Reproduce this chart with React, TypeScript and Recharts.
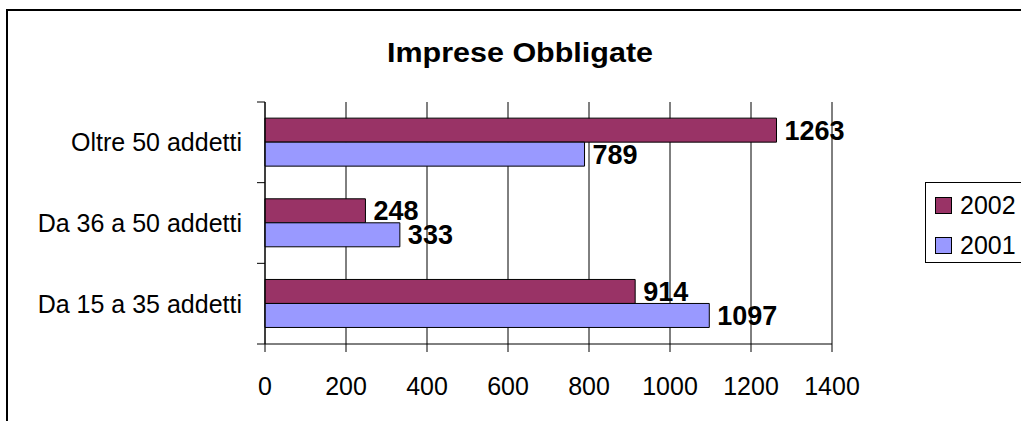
import React from 'react';
import { BarChart, Bar, XAxis, YAxis, CartesianGrid, LabelList, Legend } from 'recharts';

const categories = ['Oltre 50 addetti', 'Da 36 a 50 addetti', 'Da 15 a 35 addetti'];
const values2002 = [1263, 248, 914];
const values2001 = [789, 333, 1097];
const xTicks = [0, 200, 400, 600, 800, 1000, 1200, 1400];
const seriesNames = ['2002', '2001'];
const seriesColors = ['#993366', '#9999FF'];
const title = 'Imprese Obbligate';

const data = categories.map((c, i) => ({ cat: c, y2002: values2002[i], y2001: values2001[i] }));

const W = 1021;
const H = 421;
const PLOT_TOP = 102;
const PLOT_BOTTOM = 344;
const PLOT_RIGHT = 832;
const BAND = (PLOT_BOTTOM - PLOT_TOP) / categories.length;
const FONT = '"Liberation Sans", Arial, Helvetica, sans-serif';

const CatTick = (props: any) => {
  const { x, y, payload, index } = props;
  const lx1 = x + 15;
  const lx2 = x + 23;
  return (
    <g>
      <line x1={lx1} x2={lx2} y1={y - BAND / 2} y2={y - BAND / 2} stroke="#000" />
      {index === categories.length - 1 && (
        <line x1={lx1} x2={lx2} y1={y + BAND / 2} y2={y + BAND / 2} stroke="#000" />
      )}
      <text x={x} y={y} dy="0.36em" textAnchor="end" fontSize={25} fill="#000" fontFamily={FONT}>
        {payload.value}
      </text>
    </g>
  );
};

const LegendBox = () => (
  <div
    style={{
      border: '1px solid #000',
      borderRight: 'none',
      width: 120,
      height: 81,
      boxSizing: 'border-box',
      fontFamily: FONT,
      fontSize: 25,
      paddingTop: 2,
      color: '#000',
    }}
  >
    {seriesNames.map((n, i) => (
      <div key={n} style={{ display: 'flex', alignItems: 'center', height: 40, paddingLeft: 9 }}>
        <span
          style={{
            display: 'inline-block',
            width: 17,
            height: 17,
            boxSizing: 'border-box',
            background: seriesColors[i],
            border: '1px solid #000',
            marginRight: 8,
          }}
        />
        <span style={{ lineHeight: '25px' }}>{n}</span>
      </div>
    ))}
  </div>
);

const labelStyle = { fontWeight: 'bold', fontSize: 27, fill: '#000', fontFamily: FONT };

export default function App() {
  return (
    <div
      style={{
        position: 'fixed',
        left: 0,
        top: 0,
        width: W,
        height: H,
        overflow: 'hidden',
        background: '#fff',
      }}
    >
      <div
        style={{
          position: 'absolute',
          left: 6,
          top: 9,
          width: 1200,
          height: 600,
          border: '2px solid #000',
        }}
      />
      <svg style={{ position: 'absolute', left: 0, top: 0 }} width={W} height={H}>
        <text
          x={520}
          y={62}
          textAnchor="middle"
          fontSize={28}
          fontWeight="bold"
          fontFamily={FONT}
          fill="#000"
          textLength={266}
          lengthAdjust="spacingAndGlyphs"
        >
          {title}
        </text>
      </svg>
      <div style={{ position: 'absolute', left: 0, top: 0 }}>
        <BarChart
          width={W}
          height={H}
          data={data}
          layout="vertical"
          margin={{ top: PLOT_TOP, right: W - PLOT_RIGHT, bottom: 0, left: 0 }}
          barCategoryGap="20%"
          barGap={0}
        >
          <CartesianGrid horizontal={false} vertical stroke="#000" />
          <XAxis
            type="number"
            domain={[0, 1400]}
            ticks={xTicks}
            interval={0}
            tickSize={8}
            tickMargin={25}
            height={H - PLOT_BOTTOM}
            axisLine={{ stroke: '#000' }}
            tickLine={{ stroke: '#000' }}
            tick={{ fill: '#000', fontSize: 25, fontFamily: FONT }}
          />
          <XAxis
            xAxisId="top"
            orientation="top"
            type="number"
            domain={[0, 1400]}
            ticks={xTicks}
            tick={false}
            tickLine={false}
            height={0}
            axisLine={{ stroke: '#808080' }}
          />
          <YAxis
            type="category"
            dataKey="cat"
            width={265}
            interval={0}
            tickSize={8}
            tickMargin={15}
            tickLine={false}
            axisLine={{ stroke: '#000' }}
            tick={<CatTick />}
          />
          <YAxis
            yAxisId="right"
            orientation="right"
            type="category"
            dataKey="cat"
            width={0}
            tick={false}
            tickLine={false}
            axisLine={{ stroke: '#808080' }}
          />
          <Legend
            layout="horizontal"
            verticalAlign="middle"
            align="center"
            content={<LegendBox />}
            wrapperStyle={{ left: 925, top: 182, width: 120, height: 81 }}
          />
          <Bar dataKey="y2002" name={seriesNames[0]} fill={seriesColors[0]} stroke="#000" strokeWidth={1} isAnimationActive={false}>
            <LabelList dataKey="y2002" position="right" offset={8} style={labelStyle} />
          </Bar>
          <Bar dataKey="y2001" name={seriesNames[1]} fill={seriesColors[1]} stroke="#000" strokeWidth={1} isAnimationActive={false}>
            <LabelList dataKey="y2001" position="right" offset={8} style={labelStyle} />
          </Bar>
        </BarChart>
      </div>
    </div>
  );
}
